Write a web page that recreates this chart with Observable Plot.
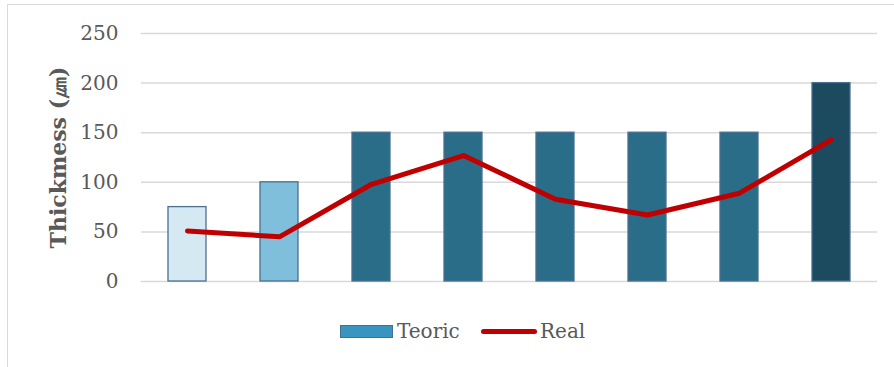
<!DOCTYPE html>
<html>
<head>
<meta charset="utf-8">
<script src="https://cdn.jsdelivr.net/npm/d3@7"></script>
<script src="https://cdn.jsdelivr.net/npm/@observablehq/plot@0.6"></script>
<style>
  html, body { margin: 0; padding: 0; background: #fff; }
  #wrap { position: relative; width: 894px; height: 367px; overflow: hidden; font-family: "DejaVu Serif", serif; }
  #frame { position: absolute; left: 7px; top: 4px; width: 900px; height: 400px; border-left: 1.5px solid #d9d9d9; border-top: 1.5px solid #d9d9d9; box-sizing: border-box; }
  #chart { position: absolute; left: 0; top: 0; }
  #chart g[aria-label="y-axis tick label"] text { font-size: 20px; }
  #legend { position: absolute; left: 0; top: 318px; width: 894px; height: 26px; font-size: 20px; color: #595959; }
  .item { position: absolute; top: 0; height: 26px; display: flex; align-items: center; }
  .swatch-bar { width: 53px; height: 13px; background: #3795bf; border: 1.5px solid #466f90; box-sizing: border-box; margin-right: 4px; }
  .swatch-line { width: 56px; height: 5px; background: #c00000; border-radius: 3px; margin-right: 3px; }
</style>
</head>
<body>
<div id="wrap">
  <div id="frame"></div>
  <div id="chart"></div>
  <div id="legend">
    <div class="item" style="left:340px"><span class="swatch-bar"></span><span>Teoric</span></div>
    <div class="item" style="left:481px"><span class="swatch-line"></span><span>Real</span></div>
  </div>
</div>
<script>
// Coating thickness per sample: nominal (Teoric) vs measured (Real), in µm
const samples = ["S1", "S2", "S3", "S4", "S5", "S6", "S7", "S8"];
const teoric = [75, 100, 150, 150, 150, 150, 150, 200];
const real = [51, 45, 98, 127, 83, 67, 89, 143];
const yTicks = [0, 50, 100, 150, 200, 250];
const yLabel = "Thickmess (㎛)";

// Fill per sample group
const barColors = ["#d5e9f2", "#7fbfdc", "#296d88", "#296d88", "#296d88", "#296d88", "#296d88", "#1c4a5e"];

const rows = samples.map((s, i) => ({sample: s, teoric: teoric[i], real: real[i], color: barColors[i]}));

const chart = Plot.plot({
  width: 894,
  height: 300,
  marginTop: 33,
  marginBottom: 19,
  marginLeft: 141,
  marginRight: 17,
  style: {fontFamily: "DejaVu Serif, serif", fontSize: "20px", color: "#595959", background: "transparent", overflow: "visible"},
  x: {type: "band", domain: samples, paddingInner: 0.59, paddingOuter: 0.295, axis: null},
  y: {domain: [0, 250], ticks: yTicks, label: null},
  marks: [
    Plot.gridY(yTicks, {stroke: "#d9d9d9", strokeOpacity: 1, strokeWidth: 1.5}),
    Plot.axisY(yTicks, {tickSize: 0, tickPadding: 23, fill: "#595959", fontSize: 20, label: null}),
    Plot.barY(rows, {x: "sample", y: "teoric", fill: "color", stroke: "#4a6f90", strokeWidth: 1.3}),
    Plot.line(rows, {x: "sample", y: "real", stroke: "#c00000", strokeWidth: 5, strokeLinecap: "round", strokeLinejoin: "round"}),
    Plot.text([yLabel], {frameAnchor: "left", textAnchor: "middle", dx: -83, rotate: -90, text: d => d, fontWeight: "bold", fontSize: 22, fill: "#595959", letterSpacing: "1px"})
  ]
});
document.getElementById("chart").appendChild(chart);
</script>
</body>
</html>
